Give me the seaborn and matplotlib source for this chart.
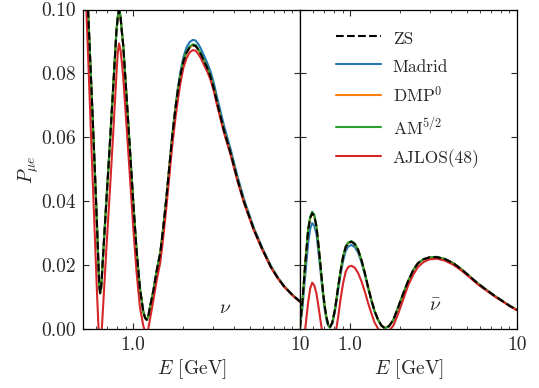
import matplotlib
matplotlib.use("Agg")
import matplotlib.pyplot as plt
import seaborn as sns
import pandas as pd
from matplotlib.ticker import FixedLocator, FixedFormatter, NullFormatter

# ---------------- data: neutrino panel ----------------
E_nu = [0.500, 0.536, 0.561, 0.588, 0.607, 0.620, 0.626, 0.633, 0.640, 0.648,
        0.663, 0.690, 0.724, 0.758, 0.793, 0.808, 0.823, 0.839, 0.855, 0.871,
        0.911, 0.955, 1.000, 1.047, 1.097, 1.149, 1.178, 1.206, 1.233, 1.261,
        1.320, 1.385, 1.454, 1.516, 1.580, 1.648, 1.711, 1.791, 1.850, 1.919,
        2.000, 2.086, 2.180, 2.276, 2.370, 2.464, 2.550, 2.652, 2.780, 2.910,
        3.050, 3.193, 3.499, 3.840, 4.214, 4.618, 5.304, 5.961, 6.688, 7.338,
        8.043, 9.036, 10.00]
zs_nu = [0.145, 0.100, 0.076, 0.0505, 0.032, 0.019, 0.0138, 0.0113, 0.0122, 0.016,
         0.025, 0.040, 0.0577, 0.0754, 0.0931, 0.0976, 0.0998, 0.0978, 0.093, 0.0889,
         0.0733, 0.0566, 0.040, 0.0248, 0.0129, 0.0056, 0.0036, 0.003, 0.0042, 0.007,
         0.012, 0.0185, 0.024, 0.032, 0.041, 0.051, 0.060, 0.069, 0.0745, 0.0795,
         0.0838, 0.0865, 0.0881, 0.0888, 0.0886, 0.0873, 0.0860, 0.0840, 0.0818, 0.079,
         0.0752, 0.0707, 0.0623, 0.0551, 0.047, 0.0399, 0.0311, 0.025, 0.0196, 0.0162,
         0.0134, 0.0107, 0.0087]
madrid_nu = [0.145, 0.100, 0.076, 0.0505, 0.032, 0.019, 0.0138, 0.0113, 0.0122, 0.016,
             0.025, 0.040, 0.0577, 0.0754, 0.0931, 0.0976, 0.0998, 0.0978, 0.093, 0.0889,
             0.0733, 0.0566, 0.040, 0.0248, 0.0129, 0.0056, 0.0036, 0.003, 0.0042, 0.007,
             0.012, 0.0185, 0.024, 0.032, 0.041, 0.051, 0.060, 0.0695, 0.0752, 0.0805,
             0.0851, 0.0881, 0.0898, 0.0905, 0.0903, 0.0891, 0.0877, 0.0857, 0.0833, 0.0806,
             0.0768, 0.0723, 0.0638, 0.0563, 0.0480, 0.0407, 0.0316, 0.0254, 0.0199, 0.0164,
             0.0136, 0.0108, 0.0088]
dmp_nu = [0.145, 0.100, 0.076, 0.0505, 0.032, 0.019, 0.0138, 0.0113, 0.0122, 0.016,
          0.025, 0.040, 0.0577, 0.0754, 0.0931, 0.0976, 0.0998, 0.0978, 0.093, 0.0889,
          0.0733, 0.0566, 0.040, 0.0248, 0.0129, 0.0056, 0.0036, 0.003, 0.0042, 0.007,
          0.012, 0.0185, 0.024, 0.032, 0.041, 0.051, 0.060, 0.069, 0.0745, 0.0795,
          0.0838, 0.0865, 0.0881, 0.0888, 0.0886, 0.0873, 0.0860, 0.0840, 0.0818, 0.079,
          0.0752, 0.0707, 0.0623, 0.0551, 0.047, 0.0399, 0.0311, 0.025, 0.0196, 0.0162,
          0.0134, 0.0107, 0.0087]
am_nu = [0.145, 0.100, 0.076, 0.0505, 0.032, 0.019, 0.0138, 0.0113, 0.0122, 0.016,
         0.025, 0.040, 0.0577, 0.0754, 0.0933, 0.0979, 0.1001, 0.0981, 0.0932, 0.0890,
         0.0733, 0.0566, 0.040, 0.0248, 0.0129, 0.0056, 0.0036, 0.003, 0.0042, 0.007,
         0.012, 0.0185, 0.024, 0.032, 0.041, 0.051, 0.060, 0.069, 0.0746, 0.0797,
         0.0840, 0.0868, 0.0884, 0.0891, 0.0889, 0.0876, 0.0862, 0.0842, 0.0820, 0.0792,
         0.0753, 0.0708, 0.0623, 0.0551, 0.047, 0.0399, 0.0311, 0.025, 0.0196, 0.0162,
         0.0134, 0.0107, 0.0087]
ajlos_nu = [0.128, 0.086, 0.058, 0.030, 0.011, 0.000, -0.004, -0.005, -0.003, 0.000,
            0.009, 0.025, 0.043, 0.061, 0.0795, 0.0865, 0.0894, 0.0873, 0.0835, 0.079,
            0.064, 0.048, 0.032, 0.018, 0.007, 0.0012, -0.0008, -0.001, 0.0003, 0.0032,
            0.009, 0.0155, 0.021, 0.029, 0.038, 0.048, 0.057, 0.066, 0.0715, 0.077,
            0.0818, 0.0847, 0.0866, 0.0873, 0.0871, 0.0860, 0.0847, 0.0828, 0.0806, 0.0780,
            0.0743, 0.0698, 0.0616, 0.0545, 0.0465, 0.0395, 0.0308, 0.0248, 0.0194, 0.0161,
            0.0133, 0.0106, 0.0086]

# ---------------- data: antineutrino panel ----------------
E_nub = [0.500, 0.518, 0.536, 0.560, 0.576, 0.592, 0.609, 0.628, 0.643, 0.659,
         0.674, 0.689, 0.705, 0.721, 0.738, 0.756, 0.782, 0.810, 0.828, 0.848,
         0.876, 0.908, 0.940, 0.973, 1.018, 1.065, 1.117, 1.170, 1.225, 1.280,
         1.341, 1.400, 1.471, 1.540, 1.614, 1.710, 1.817, 1.950, 2.085, 2.230,
         2.394, 2.550, 2.748, 2.980, 3.305, 3.700, 4.155, 4.650, 5.231, 5.850,
         6.585, 7.400, 8.279, 9.100, 10.00]
zs_nub = [0.0005, 0.009, 0.0196, 0.0311, 0.0348, 0.0363, 0.0355, 0.0321, 0.0272, 0.0217,
          0.0163, 0.0113, 0.0070, 0.0038, 0.0015, 0.0006, 0.0022, 0.0061, 0.0095, 0.0134,
          0.0182, 0.0228, 0.0257, 0.0270, 0.0274, 0.0267, 0.0248, 0.0216, 0.0176, 0.0133,
          0.0092, 0.0058, 0.0030, 0.0012, 0.0004, 0.0010, 0.0030, 0.0072, 0.0113, 0.0152,
          0.0186, 0.0207, 0.0219, 0.0225, 0.0226, 0.0220, 0.0207, 0.0188, 0.0165, 0.0143,
          0.0123, 0.0104, 0.0087, 0.0073, 0.0061]
madrid_nub = [0.0003, 0.007, 0.016, 0.027, 0.0315, 0.0332, 0.0325, 0.0298, 0.025, 0.0200,
              0.0150, 0.0102, 0.0060, 0.0030, 0.0012, 0.0006, 0.0018, 0.0055, 0.0088, 0.0125,
              0.0172, 0.0215, 0.0245, 0.0259, 0.0264, 0.0258, 0.0240, 0.0209, 0.0171, 0.0130,
              0.0090, 0.0056, 0.0029, 0.0012, 0.0004, 0.0010, 0.0030, 0.0072, 0.0113, 0.0152,
              0.0186, 0.0207, 0.0219, 0.0225, 0.0226, 0.0220, 0.0207, 0.0188, 0.0165, 0.0143,
              0.0123, 0.0104, 0.0087, 0.0073, 0.0061]
dmp_nub = [0.0005, 0.009, 0.0196, 0.0311, 0.0348, 0.0363, 0.0355, 0.0321, 0.0272, 0.0217,
           0.0163, 0.0113, 0.0070, 0.0038, 0.0015, 0.0006, 0.0022, 0.0061, 0.0095, 0.0134,
           0.0182, 0.0228, 0.0257, 0.0270, 0.0274, 0.0267, 0.0248, 0.0216, 0.0176, 0.0133,
           0.0092, 0.0058, 0.0030, 0.0012, 0.0004, 0.0010, 0.0030, 0.0072, 0.0113, 0.0152,
           0.0186, 0.0207, 0.0219, 0.0225, 0.0226, 0.0220, 0.0207, 0.0188, 0.0165, 0.0143,
           0.0123, 0.0104, 0.0087, 0.0073, 0.0061]
am_nub = [0.0005, 0.009, 0.0198, 0.0315, 0.0352, 0.0368, 0.0359, 0.0324, 0.0274, 0.0218,
          0.0163, 0.0113, 0.0070, 0.0038, 0.0015, 0.0006, 0.0022, 0.0062, 0.0096, 0.0135,
          0.0183, 0.0230, 0.0259, 0.0272, 0.0276, 0.0269, 0.0249, 0.0217, 0.0176, 0.0133,
          0.0092, 0.0058, 0.0030, 0.0012, 0.0004, 0.0010, 0.0030, 0.0072, 0.0113, 0.0152,
          0.0186, 0.0207, 0.0219, 0.0225, 0.0227, 0.0220, 0.0207, 0.0188, 0.0165, 0.0143,
          0.0123, 0.0104, 0.0087, 0.0073, 0.0061]
ajlos_nub = [-0.012, -0.006, -0.0005, 0.0085, 0.0128, 0.0146, 0.0138, 0.0112, 0.0078, 0.0040,
             0.0005, -0.003, -0.006, -0.008, -0.009, -0.009, -0.007, -0.003, 0.0005, 0.004,
             0.0095, 0.0145, 0.018, 0.0195, 0.0199, 0.0193, 0.0176, 0.0150, 0.0118, 0.0083,
             0.0050, 0.0022, 0.0002, -0.001, -0.0015, -0.0005, 0.0012, 0.0052, 0.0095, 0.0138,
             0.0172, 0.0195, 0.0210, 0.0219, 0.0221, 0.0215, 0.0202, 0.0184, 0.0162, 0.0140,
             0.0121, 0.0102, 0.0086, 0.0072, 0.0060]

model_names = ["ZS", "Madrid", "DMP$^0$", "AM$^{5/2}$", "AJLOS(48)"]
y_ticks = [0.00, 0.02, 0.04, 0.06, 0.08, 0.10]
y_tick_labels = ["0.00", "0.02", "0.04", "0.06", "0.08", "0.10"]
x_ticks = [1.0, 10.0]
x_tick_labels = ["1.0", "10"]
x_minor = [0.5, 0.6, 0.7, 0.8, 0.9, 2, 3, 4, 5, 6, 7, 8, 9]

# ---------------- style ----------------
sns.set_theme(style="ticks")
plt.rcParams.update({
    "font.family": ["cmr10", "DejaVu Serif"],
    "mathtext.fontset": "cm",
    "axes.formatter.use_mathtext": True,
    "xtick.direction": "in",
    "ytick.direction": "in",
    "xtick.top": True,
    "ytick.right": True,
    "axes.edgecolor": "black",
    "axes.linewidth": 0.9,
})

colors = {"ZS": "black", "Madrid": "#1f77b4", "DMP$^0$": "#ff7f0e",
          "AM$^{5/2}$": "#2ca02c", "AJLOS(48)": "#d62728"}

def long_frame(E, series):
    rows = []
    for name, vals in zip(model_names, series):
        for e, v in zip(E, vals):
            rows.append({"E": e, "P": v, "model": name})
    return pd.DataFrame(rows)

df_nu = long_frame(E_nu, [zs_nu, madrid_nu, dmp_nu, am_nu, ajlos_nu])
df_nub = long_frame(E_nub, [zs_nub, madrid_nub, dmp_nub, am_nub, ajlos_nub])

fig, (ax1, ax2) = plt.subplots(1, 2, figsize=(5.39, 3.88), dpi=100, sharey=True)
fig.subplots_adjust(left=0.154, right=0.959, top=0.9755, bottom=0.151, wspace=0)

draw_order = ["Madrid", "DMP$^0$", "AM$^{5/2}$", "AJLOS(48)", "ZS"]
for ax, df in ((ax1, df_nu), (ax2, df_nub)):
    for name in draw_order:
        sub = df[df["model"] == name]
        sns.lineplot(data=sub, x="E", y="P", ax=ax, color=colors[name],
                     linestyle="--" if name == "ZS" else "-", lw=1.5,
                     estimator=None, sort=False, label=name)
    ax.set_xscale("log")
    ax.set_xlim(0.5, 10)
    ax.set_ylim(0, 0.1)
    ax.xaxis.set_major_locator(FixedLocator(x_ticks))
    ax.xaxis.set_major_formatter(FixedFormatter(x_tick_labels))
    ax.xaxis.set_minor_locator(FixedLocator(x_minor))
    ax.xaxis.set_minor_formatter(NullFormatter())
    ax.yaxis.set_major_locator(FixedLocator(y_ticks))
    ax.tick_params(which="major", length=4, width=0.8, labelsize=14, pad=5,
                   top=True, right=True, direction="in")
    ax.tick_params(which="minor", length=2, width=0.6, top=True, right=True, direction="in")
    ax.set_xlabel("$E$ [GeV]", fontsize=14, labelpad=2)
    if ax.get_legend() is not None:
        ax.get_legend().remove()

ax1.yaxis.set_major_formatter(FixedFormatter(y_tick_labels))
ax1.set_ylabel(r"$P_{\mu e}$", fontsize=14, labelpad=0.5)
ax2.set_ylabel("")
ax2.tick_params(labelleft=False)

ax1.text(3.58, 0.0068, r"$\nu$", fontsize=14, ha="center", va="center")
ax2.text(3.23, 0.0072, r"$\bar{\nu}$", fontsize=14, ha="center", va="center")

handles, labels = ax2.get_legend_handles_labels()
hmap = dict(zip(labels, handles))
ax2.legend([hmap[n] for n in model_names], model_names, loc="upper left",
           bbox_to_anchor=(0.092, 0.99), frameon=False, fontsize=12.5,
           handlelength=2.6, handletextpad=0.7, handleheight=1.3,
           labelspacing=0.55)

fig.savefig("out.png", dpi=100)
